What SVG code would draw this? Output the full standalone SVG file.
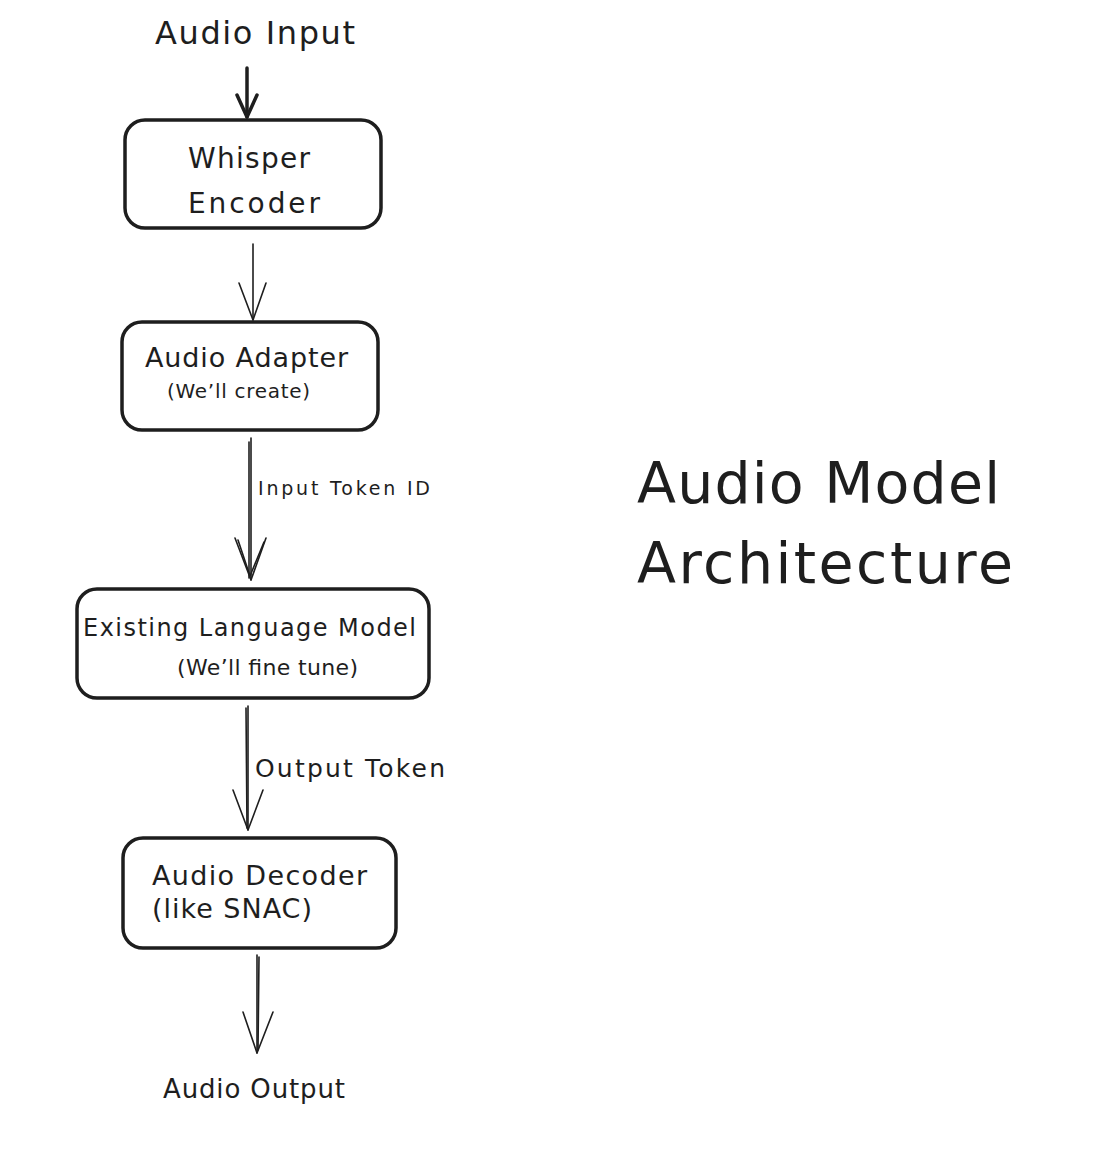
<svg xmlns="http://www.w3.org/2000/svg" width="1096" height="1152" viewBox="0 0 1096 1152">
<style>
text{font-family:"DejaVu Sans","Liberation Sans",sans-serif;fill:#1e1e1e}
.box{fill:#fff;stroke:#1e1e1e;stroke-width:3.5;stroke-linejoin:round}
.ln{fill:none;stroke:#1e1e1e;stroke-width:1.6;stroke-linecap:round;stroke-linejoin:round}
.thick{fill:none;stroke:#1e1e1e;stroke-width:3.5;stroke-linecap:round;stroke-linejoin:round}
</style>
<rect width="1096" height="1152" fill="#fff"/>
<g id="connectors">
<g id="arrow-input">
<path class="thick" d="M247 68 L247 117"/>
<path class="thick" d="M237 95 L247 117 L257 95"/>
</g>
<g id="arrow-enc-adapter">
<path class="ln" d="M253 244 L253 320"/>
<path class="ln" d="M239 283 L253 320 L266 283"/>
</g>
<g id="arrow-adapter-lm">
<path class="ln" d="M251 438 L251 580"/>
<path class="ln" d="M249 442 L249 578"/>
<path class="ln" d="M235 538 L251 580 L266 538"/>
<path class="ln" d="M238 540 L250 576 L264 542"/>
<text x="258" y="495" font-size="19" textLength="172" lengthAdjust="spacing">Input Token ID</text>
</g>
<g id="arrow-lm-decoder">
<path class="ln" d="M248 706 L248 830"/>
<path class="ln" d="M246 708 L247 828"/>
<path class="ln" d="M233 790 L248 830 L263 790"/>
<text x="255" y="777" font-size="25" textLength="190" lengthAdjust="spacing">Output Token</text>
</g>
<g id="arrow-output">
<path class="ln" d="M257 955 L257 1053"/>
<path class="ln" d="M259 957 L258 1050"/>
<path class="ln" d="M243 1012 L257 1053 L273 1012"/>
</g>
</g>
<g id="audio-input">
<text x="155" y="44" font-size="32" textLength="200" lengthAdjust="spacing">Audio Input</text>
</g>
<g id="whisper-encoder">
<rect class="box" x="125" y="120" width="256" height="108" rx="20"/>
<text x="188" y="168" font-size="28" textLength="122" lengthAdjust="spacing">Whisper</text>
<text x="188" y="213" font-size="28" textLength="132" lengthAdjust="spacing">Encoder</text>
</g>
<g id="audio-adapter">
<rect class="box" x="122" y="322" width="256" height="108" rx="20"/>
<text x="145" y="367" font-size="27" textLength="203" lengthAdjust="spacing">Audio Adapter</text>
<text x="167" y="398" font-size="20" textLength="143" lengthAdjust="spacing">(We’ll create)</text>
</g>
<g id="language-model">
<rect class="box" x="77" y="589" width="352" height="109" rx="20"/>
<text x="83" y="636" font-size="24" textLength="333" lengthAdjust="spacing">Existing Language Model</text>
<text x="177" y="675" font-size="22" textLength="181" lengthAdjust="spacing">(We’ll fine tune)</text>
</g>
<g id="audio-decoder">
<rect class="box" x="123" y="838" width="273" height="110" rx="20"/>
<text x="152" y="885" font-size="27" textLength="215" lengthAdjust="spacing">Audio Decoder</text>
<text x="152" y="918" font-size="27" textLength="160" lengthAdjust="spacing">(like SNAC)</text>
</g>
<g id="audio-output">
<text x="163" y="1098" font-size="26" textLength="182" lengthAdjust="spacing">Audio Output</text>
</g>
<g id="title">
<text x="637" y="503" font-size="57" textLength="363" lengthAdjust="spacing">Audio Model</text>
<text x="637" y="583" font-size="57" textLength="376" lengthAdjust="spacing">Architecture</text>
</g>
</svg>
